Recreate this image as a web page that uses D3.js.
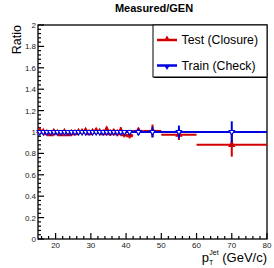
<!DOCTYPE html>
<html>
<head>
<meta charset="utf-8">
<script src="https://cdn.jsdelivr.net/npm/d3@7"></script>
<style>
  body { margin: 0; background: #fff; }
  svg { display: block; font-family: "Liberation Sans", Arial, sans-serif; }
</style>
</head>
<body>
<div id="chart"></div>
<script>
// bin edges in pT (GeV/c)
const binEdges = [15,16,17,18,19,20,21,22,23,24,25,26,27,28,29,30,31,32,33,34,35,36,37,38,39,40,42,45,50,60,80];

// Test (Closure) ratio and error
const testRatio = [1.01,1.00,0.99,0.98,1.00,0.99,0.98,1.00,0.98,0.99,0.99,1.00,1.00,1.01,0.99,1.00,1.01,1.00,0.99,1.02,0.99,1.00,0.99,1.01,0.98,0.97,1.01,1.01,0.975,0.88];
const testErr   = [0.015,0.01,0.012,0.012,0.01,0.012,0.012,0.012,0.013,0.012,0.014,0.015,0.014,0.02,0.015,0.02,0.025,0.02,0.02,0.03,0.025,0.025,0.03,0.035,0.03,0.03,0.03,0.06,0.05,0.11];

// Train (Check) ratio and error
const trainRatio = [1.00,1.00,1.00,1.00,1.00,1.00,1.00,1.00,1.00,1.00,1.00,1.00,1.00,1.00,1.00,1.00,1.00,1.00,1.00,1.00,1.00,1.00,1.00,1.00,1.00,1.00,1.00,1.00,1.00,1.00];
const trainErr   = [0.008,0.008,0.008,0.008,0.008,0.008,0.008,0.008,0.009,0.009,0.01,0.01,0.01,0.01,0.01,0.011,0.012,0.012,0.012,0.013,0.014,0.015,0.015,0.016,0.017,0.02,0.03,0.05,0.06,0.1];

const xTicks = [20,30,40,50,60,70,80];
const yTicks = [0,0.2,0.4,0.6,0.8,1,1.2,1.4,1.6,1.8,2];

const W = 274, H = 268;
const pLeft = 38, pRight = 267, pTop = 25, pBottom = 239;

const svg = d3.select("#chart").append("svg")
    .attr("width", W).attr("height", H);

const x = d3.scaleLinear().domain([15, 80]).range([pLeft, pRight]);
const y = d3.scaleLinear().domain([0, 2]).range([pBottom, pTop]);

const bins = d3.range(binEdges.length - 1).map(i => ({
    lo: binEdges[i], hi: binEdges[i + 1],
    c: (binEdges[i] + binEdges[i + 1]) / 2,
    tv: testRatio[i], te: testErr[i],
    bv: trainRatio[i], be: trainErr[i]
}));

// frame
svg.append("rect")
    .attr("x", pLeft).attr("y", pTop)
    .attr("width", pRight - pLeft).attr("height", pBottom - pTop)
    .attr("fill", "none").attr("stroke", "#000").attr("stroke-width", 1.3);

// y axis ticks (inside)
const yMinor = d3.range(0, 2.0001, 0.04);
svg.append("g").selectAll("line").data(yMinor).enter().append("line")
    .attr("x1", pLeft).attr("x2", (d, i) => pLeft + (i % 5 === 0 ? 6 : 3))
    .attr("y1", d => y(d)).attr("y2", d => y(d))
    .attr("stroke", "#000").attr("stroke-width", 1.2);

svg.append("g").selectAll("text").data(yTicks).enter().append("text")
    .attr("x", pLeft - 2).attr("y", d => y(d) + 3)
    .attr("text-anchor", "end")
    .attr("font-size", 8).attr("fill", "#222")
    .text(d => d3.format("~g")(d));

// x axis ticks (inside)
const xMinor = d3.range(16, 80.001, 2);
svg.append("g").selectAll("line").data(xMinor).enter().append("line")
    .attr("x1", d => x(d)).attr("x2", d => x(d))
    .attr("y1", pBottom).attr("y2", d => pBottom - (d % 10 === 0 ? 6 : 3))
    .attr("stroke", "#000").attr("stroke-width", 1.2);

svg.append("g").selectAll("text").data(xTicks).enter().append("text")
    .attr("x", d => x(d)).attr("y", pBottom + 8.5)
    .attr("text-anchor", "middle")
    .attr("font-size", 8).attr("fill", "#222")
    .text(d => d);

// reference line at 1
svg.append("line")
    .attr("x1", x(15)).attr("x2", x(80))
    .attr("y1", y(1)).attr("y2", y(1))
    .attr("stroke", "#00004a").attr("stroke-width", 2);

function drawSeries(key, errKey, color, marker) {
    const g = svg.append("g");
    g.selectAll(".h").data(bins).enter().append("line")
        .attr("x1", d => x(d.lo)).attr("x2", d => x(d.hi))
        .attr("y1", d => y(d[key])).attr("y2", d => y(d[key]))
        .attr("stroke", color).attr("stroke-width", 2);
    g.selectAll(".v").data(bins).enter().append("line")
        .attr("x1", d => x(d.c)).attr("x2", d => x(d.c))
        .attr("y1", d => y(d[key] - d[errKey])).attr("y2", d => y(d[key] + d[errKey]))
        .attr("stroke", color).attr("stroke-width", 2);
    g.selectAll("path").data(bins).enter().append("path")
        .attr("d", d3.symbol().type(d3.symbolTriangle).size(marker === "down" ? 12 : 12))
        .attr("transform", d => `translate(${x(d.c)},${y(d[key])}) rotate(${marker === "down" ? 180 : 0})`)
        .attr("fill", marker === "down" ? "#fff" : color)
        .attr("stroke", color).attr("stroke-width", 1.2);
}

drawSeries("tv", "te", "#d00000", "up");
drawSeries("bv", "be", "#0000e0", "down");

// legend
const lg = svg.append("g");
lg.append("rect")
    .attr("x", 153).attr("y", pTop).attr("width", pRight - 153).attr("height", 52)
    .attr("fill", "#fff").attr("stroke", "#000").attr("stroke-width", 1);
lg.append("line").attr("x1", 154).attr("x2", pRight).attr("y1", pTop + 52.5).attr("y2", pTop + 52.5)
    .attr("stroke", "#000").attr("stroke-width", 1);

const legendItems = [
    { label: "Test (Closure)", color: "#d00000", rot: 0, yy: 40 },
    { label: "Train (Check)", color: "#0000e0", rot: 180, yy: 65.5 }
];
legendItems.forEach(it => {
    lg.append("line").attr("x1", 157).attr("x2", 177)
        .attr("y1", it.yy).attr("y2", it.yy)
        .attr("stroke", it.color).attr("stroke-width", 2.5);
    lg.append("path").attr("d", d3.symbol().type(d3.symbolTriangle).size(12))
        .attr("transform", `translate(167,${it.yy + (it.rot ? 1.5 : -1.5)}) rotate(${it.rot})`)
        .attr("fill", it.color);
    lg.append("text").attr("x", 181.5).attr("y", it.yy + 4.3)
        .attr("font-size", 12.3).attr("fill", "#000")
        .text(it.label);
});

// title
svg.append("text")
    .attr("x", 154).attr("y", 12)
    .attr("text-anchor", "middle")
    .attr("font-size", 11).attr("font-weight", "bold")
    .text("Measured/GEN");

// y label
svg.append("text")
    .attr("transform", "translate(21,25) rotate(-90)")
    .attr("text-anchor", "end")
    .attr("font-size", 12.5)
    .text("Ratio");

// x label
const xl = svg.append("text")
    .attr("x", pRight).attr("y", 262)
    .attr("text-anchor", "end")
    .attr("font-size", 13);
xl.append("tspan").text("p");
xl.append("tspan").attr("font-size", 7).attr("dy", 3).attr("dx", 0).text("T");
xl.append("tspan").attr("font-size", 7).attr("dy", -10).attr("dx", -4).text("Jet");
xl.append("tspan").attr("dy", 7).text(" (GeV/c)");
</script>
</body>
</html>
